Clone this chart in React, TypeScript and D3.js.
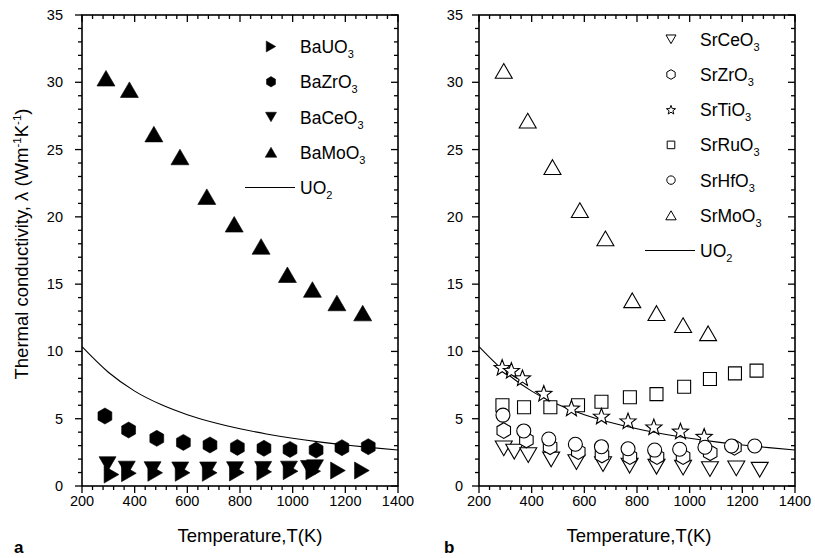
import React from 'react';
import * as d3 from 'd3';

// ---------- data ----------
const uo2T = [200, 300, 400, 500, 600, 700, 800, 900, 1000, 1100, 1200, 1300, 1400];
const uo2K = [10.35, 8.45, 7.05, 6.05, 5.3, 4.72, 4.25, 3.87, 3.55, 3.28, 3.05, 2.85, 2.67];

const baUO3: [number, number][] = [[312, 0.85], [378, 0.95], [478, 0.98], [582, 0.98], [685, 0.98], [788, 1.0], [892, 1.05], [992, 1.1], [1078, 1.1], [1172, 1.15], [1263, 1.15]];
const baZrO3: [number, number][] = [[287, 5.2], [377, 4.16], [484, 3.54], [585, 3.24], [686, 3.05], [790, 2.87], [891, 2.8], [990, 2.72], [1089, 2.67], [1187, 2.85], [1287, 2.92]];
const baCeO3: [number, number][] = [[297, 1.63], [370, 1.3], [468, 1.26], [573, 1.24], [679, 1.24], [781, 1.26], [888, 1.28], [986, 1.3], [1062, 1.35], [1085, 1.4]];
const baMoO3: [number, number][] = [[291, 30.3], [380, 29.45], [473, 26.15], [572, 24.45], [674, 21.5], [778, 19.45], [880, 17.8], [980, 15.7], [1075, 14.6], [1168, 13.6], [1266, 12.85]];

const srCeO3: [number, number][] = [[294, 2.8], [334, 2.55], [387, 2.3], [474, 1.97], [570, 1.78], [671, 1.63], [772, 1.51], [874, 1.43], [975, 1.37], [1077, 1.26], [1177, 1.31], [1266, 1.21]];
const srZrO3: [number, number][] = [[294, 4.12], [380, 3.42], [470, 2.92], [577, 2.55], [667, 2.3], [773, 2.18], [876, 2.18], [975, 2.18], [1078, 2.47], [1170, 2.87]];
const srTiO3: [number, number][] = [[288, 8.82], [323, 8.6], [365, 8.05], [446, 6.9], [551, 5.8], [665, 5.2], [766, 4.85], [864, 4.4], [965, 4.09], [1055, 3.7]];
const srRuO3: [number, number][] = [[289, 6.0], [371, 5.85], [471, 5.85], [576, 6.0], [665, 6.26], [773, 6.6], [874, 6.83], [979, 7.38], [1077, 7.95], [1172, 8.37], [1254, 8.57]];
const srHfO3: [number, number][] = [[291, 5.27], [370, 4.09], [465, 3.49], [566, 3.1], [665, 2.92], [766, 2.77], [867, 2.67], [962, 2.73], [1058, 2.88], [1159, 2.97], [1247, 2.97]];
const srMoO3: [number, number][] = [[294, 30.85], [385, 27.15], [479, 23.7], [583, 20.5], [680, 18.4], [782, 13.8], [874, 12.85], [975, 11.95], [1070, 11.35]];

const xMajor = [200, 400, 600, 800, 1000, 1200, 1400];
const yMajor = [0, 5, 10, 15, 20, 25, 30, 35];
const xMinor = d3.range(200, 1401, 40);
const yMinor = d3.range(0, 36, 1);

const FONT = '"Liberation Sans", Arial, Helvetica, sans-serif';

type Kind = 'triUp' | 'triDown' | 'triRight' | 'hex' | 'square' | 'circle' | 'star';

function symbolPath(kind: Kind, s: number): string {
  const pts = (arr: [number, number][]) => 'M' + arr.map(p => p[0].toFixed(2) + ',' + p[1].toFixed(2)).join('L') + 'Z';
  const h = s * 0.866;
  switch (kind) {
    case 'triUp': return pts([[0, -h], [s, h], [-s, h]]);
    case 'triDown': return pts([[0, h], [s, -h], [-s, -h]]);
    case 'triRight': return pts([[-h, -s], [h, 0], [-h, s]]);
    case 'hex': return pts(d3.range(6).map(k => { const a = (-90 + 60 * k) * Math.PI / 180; return [s * Math.cos(a), s * Math.sin(a)] as [number, number]; }));
    case 'square': return pts([[-s, -s], [s, -s], [s, s], [-s, s]]);
    case 'circle': return `M${s},0A${s},${s} 0 1,1 ${-s},0A${s},${s} 0 1,1 ${s},0Z`;
    case 'star': {
      const arr: [number, number][] = [];
      for (let k = 0; k < 10; k++) {
        const r = k % 2 === 0 ? s : s * 0.42;
        const a = (-90 + 36 * k) * Math.PI / 180;
        arr.push([r * Math.cos(a), r * Math.sin(a) + s * 0.1]);
      }
      return pts(arr);
    }
  }
  return '';
}

interface Series { name: string; sub: string; data: [number, number][]; kind: Kind; filled: boolean; size: number; legSize: number; }

const leftSeries: Series[] = [
  { name: 'BaUO', sub: '3', data: baUO3, kind: 'triRight', filled: true, size: 8.5, legSize: 5.5 },
  { name: 'BaZrO', sub: '3', data: baZrO3, kind: 'hex', filled: true, size: 8, legSize: 5.2 },
  { name: 'BaCeO', sub: '3', data: baCeO3, kind: 'triDown', filled: true, size: 8.5, legSize: 5.5 },
  { name: 'BaMoO', sub: '3', data: baMoO3, kind: 'triUp', filled: true, size: 9, legSize: 5.8 },
];

const rightSeries: Series[] = [
  { name: 'SrCeO', sub: '3', data: srCeO3, kind: 'triDown', filled: false, size: 8.5, legSize: 5 },
  { name: 'SrZrO', sub: '3', data: srZrO3, kind: 'hex', filled: false, size: 7.8, legSize: 4.8 },
  { name: 'SrTiO', sub: '3', data: srTiO3, kind: 'star', filled: false, size: 8.5, legSize: 4.8 },
  { name: 'SrRuO', sub: '3', data: srRuO3, kind: 'square', filled: false, size: 6.5, legSize: 3.8 },
  { name: 'SrHfO', sub: '3', data: srHfO3, kind: 'circle', filled: false, size: 7, legSize: 4.2 },
  { name: 'SrMoO', sub: '3', data: srMoO3, kind: 'triUp', filled: false, size: 8.5, legSize: 5.2 },
];

interface PanelProps {
  x0: number; x1: number; y0: number; y1: number;
  series: Series[]; legX: number; legY0: number; legStep: number;
  yLabelOffset: number; titleX: number; letter: string; letterX: number;
  drawOrder: number[];
}

function Panel(p: PanelProps) {
  const x = d3.scaleLinear().domain([200, 1400]).range([p.x0, p.x1]);
  const y = d3.scaleLinear().domain([0, 35]).range([p.y0, p.y1]);
  const line = d3.line<number>().x((_, i) => x(uo2T[i])).y(d => y(d)).curve(d3.curveMonotoneX);
  const MJ = 7, MN = 4;
  const yb = p.y0, yt = p.y1;
  const legRows = p.series.length;
  return (
    <g>
      <path d={line(uo2K) || ''} fill="none" stroke="#000" strokeWidth={1.1} />
      {p.drawOrder.map(si => {
        const s = p.series[si];
        return (
          <g key={s.name}>
            {s.data.map((d, i) => (
              <path key={i} d={symbolPath(s.kind, s.size)} transform={`translate(${x(d[0])},${y(d[1])})`}
                fill={s.filled ? '#000' : '#fff'} stroke="#000" strokeWidth={s.filled ? 0.6 : 1.1} />
            ))}
          </g>
        );
      })}
      <rect x={p.x0} y={yt} width={p.x1 - p.x0} height={yb - yt} fill="none" stroke="#000" strokeWidth={1.6} />
      {xMinor.map(v => {
        const isMajor = v % 200 === 0;
        const L = isMajor ? MJ : MN;
        return (
          <g key={'x' + v}>
            <line x1={x(v)} x2={x(v)} y1={yb} y2={yb + L} stroke="#000" strokeWidth={1.3} />
            <line x1={x(v)} x2={x(v)} y1={yt} y2={yt + L} stroke="#000" strokeWidth={1.3} />
          </g>
        );
      })}
      {yMinor.map(v => {
        const isMajor = v % 5 === 0;
        const L = isMajor ? MJ : MN;
        return (
          <g key={'y' + v}>
            <line x1={p.x0 - L} x2={p.x0} y1={y(v)} y2={y(v)} stroke="#000" strokeWidth={1.3} />
            <line x1={p.x1 - L} x2={p.x1} y1={y(v)} y2={y(v)} stroke="#000" strokeWidth={1.3} />
          </g>
        );
      })}
      {xMajor.map(v => (
        <text key={'xl' + v} x={x(v)} y={yb + 20} textAnchor="middle" fontSize={14.5} fontFamily={FONT}>{v}</text>
      ))}
      {yMajor.map(v => (
        <text key={'yl' + v} x={p.x0 - p.yLabelOffset} y={y(v) + 5} textAnchor="end" fontSize={14.5} fontFamily={FONT}>{v}</text>
      ))}
      {p.series.map((s, i) => {
        const ry = p.legY0 + i * p.legStep;
        return (
          <g key={'leg' + s.name}>
            <path d={symbolPath(s.kind, s.legSize)} transform={`translate(${p.legX},${ry})`}
              fill={s.filled ? '#000' : '#fff'} stroke="#000" strokeWidth={s.filled ? 0.5 : 1} />
            <text x={p.legX + 29} y={ry + 6.5} fontSize={17.5} fontFamily={FONT}>
              {s.name}<tspan fontSize={11} dy={5}>{s.sub}</tspan>
            </text>
          </g>
        );
      })}
      {(() => {
        const ry = p.legY0 + legRows * p.legStep;
        return (
          <g>
            <line x1={p.legX - 26} x2={p.legX + 24} y1={ry} y2={ry} stroke="#000" strokeWidth={1} />
            <text x={p.legX + 29} y={ry + 6.5} fontSize={17.5} fontFamily={FONT}>
              UO<tspan fontSize={11} dy={5}>2</tspan>
            </text>
          </g>
        );
      })()}
      <text x={p.titleX} y={542} textAnchor="middle" fontSize={18.5} fontFamily={FONT}>Temperature,T(K)</text>
      <text x={p.letterX} y={553} fontSize={17} fontWeight="bold" fontFamily={FONT}>{p.letter}</text>
    </g>
  );
}

export default function App() {
  return (
    <svg width={815} height={558} viewBox="0 0 815 558" style={{ position: 'absolute', left: 0, top: 0, background: '#fff' }}>
      <rect x={0} y={0} width={815} height={558} fill="#fff" />
      <Panel x0={82} x1={398} y0={486} y1={15} series={leftSeries}
        legX={271} legY0={46.5} legStep={35.25} yLabelOffset={19} titleX={250}
        letter="a" letterX={14} drawOrder={[1, 2, 0, 3]} />
      <Panel x0={479} x1={795} y0={486} y1={15} series={rightSeries}
        legX={671} legY0={39.3} legStep={35.2} yLabelOffset={16} titleX={639}
        letter="b" letterX={444} drawOrder={[0, 1, 3, 2, 4, 5]} />
      <text transform="translate(28,244) rotate(-90)" textAnchor="middle" fontSize={18.5} fontFamily={FONT}>
        Thermal conductivity, λ (Wm<tspan fontSize={11.5} dy={-7}>-1</tspan><tspan dy={7}>K</tspan><tspan fontSize={11.5} dy={-7}>-1</tspan><tspan dy={7}>)</tspan>
      </text>
    </svg>
  );
}
